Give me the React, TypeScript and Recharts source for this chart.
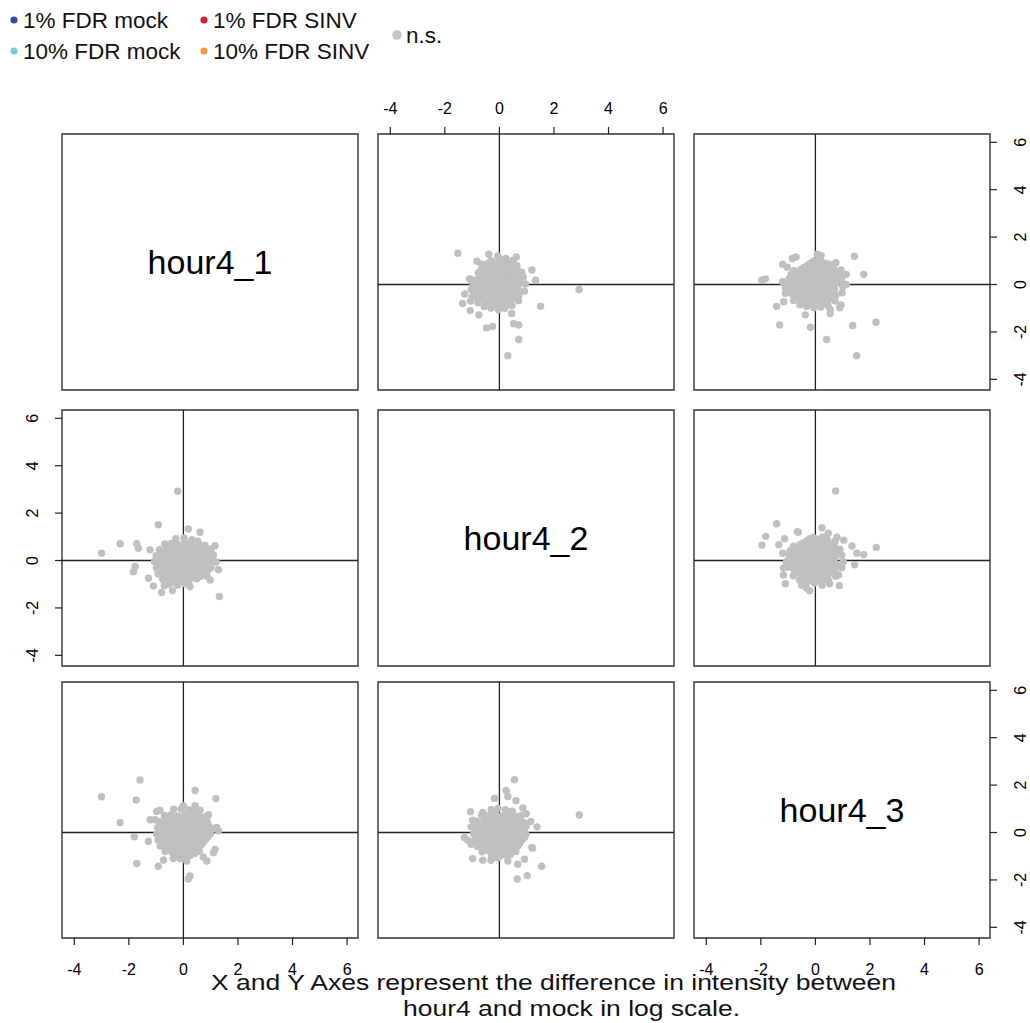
import React from 'react';
import { ScatterChart, Scatter, XAxis, YAxis, ReferenceLine, ReferenceArea } from 'recharts';

const sampleNames = ['hour4_1', 'hour4_2', 'hour4_3'];
const axisTicks = [-4, -2, 0, 2, 4, 6];
const xRange: [number, number] = [-4.45, 6.4];
const yRange: [number, number] = [-4.45, 6.35];

const legendLabels = ['1% FDR mock', '1% FDR SINV', '10% FDR mock', '10% FDR SINV', 'n.s.'];
const legendColors = ['#3a4a97', '#d8232f', '#7ccbd0', '#f39a3a', '#c4c4c4'];

const captionLines = [
  'X and Y Axes represent the difference in intensity between',
  'hour4 and mock in log scale.',
];

// log difference pairs: [hour4_1, hour4_2]
const pair12: [number, number][] = [
  [-0.28, 0.92], [0.02, 0.95], [0.31, 0.88], [0.52, 0.82],
  [-0.68, 0.7], [-0.44, 0.72], [-0.18, 0.68], [0.07, 0.74], [0.29, 0.66], [0.56, 0.7], [0.79, 0.64],
  [-0.88, 0.46], [-0.63, 0.43], [-0.41, 0.48], [-0.14, 0.44], [0.11, 0.47], [0.36, 0.42], [0.61, 0.46], [0.84, 0.41], [1.02, 0.5],
  [-1.0, 0.2], [-0.76, 0.22], [-0.52, 0.18], [-0.26, 0.21], [0.01, 0.17], [0.24, 0.23], [0.49, 0.19], [0.74, 0.22], [0.98, 0.16],
  [-1.06, -0.04], [-0.81, -0.07], [-0.56, -0.03], [-0.31, -0.06], [-0.06, -0.02], [0.19, -0.05], [0.44, -0.08], [0.69, -0.03], [0.93, -0.06], [1.12, -0.02],
  [-0.99, -0.31], [-0.74, -0.28], [-0.49, -0.32], [-0.24, -0.27], [0.02, -0.31], [0.27, -0.29], [0.52, -0.33], [0.76, -0.27], [1.01, -0.3],
  [-0.93, -0.56], [-0.69, -0.53], [-0.44, -0.57], [-0.19, -0.54], [0.06, -0.58], [0.31, -0.52], [0.56, -0.56], [0.79, -0.51],
  [-0.76, -0.79], [-0.51, -0.82], [-0.26, -0.78], [-0.01, -0.83], [0.24, -0.79], [0.49, -0.77],
  [-0.52, -1.0], [-0.21, -1.03], [0.08, -0.98],
  [-0.55, 0.57], [-0.31, 0.59], [-0.04, 0.55], [0.21, 0.58], [0.44, 0.56], [0.69, 0.55],
  [-0.85, 0.32], [-0.6, 0.31], [-0.36, 0.33], [-0.1, 0.3], [0.14, 0.33], [0.39, 0.31], [0.64, 0.34], [0.89, 0.3],
  [-0.92, 0.07], [-0.68, 0.08], [-0.43, 0.06], [-0.18, 0.08], [0.07, 0.06], [0.32, 0.08], [0.57, 0.07], [0.82, 0.06], [1.03, 0.1],
  [-0.87, -0.18], [-0.62, -0.17], [-0.37, -0.19], [-0.12, -0.16], [0.13, -0.18], [0.38, -0.17], [0.63, -0.19], [0.88, -0.16],
  [-0.82, -0.43], [-0.57, -0.42], [-0.32, -0.44], [-0.07, -0.43], [0.18, -0.42], [0.43, -0.44], [0.68, -0.42], [0.9, -0.41],
  [-0.6, -0.68], [-0.35, -0.67], [-0.1, -0.69], [0.15, -0.68], [0.4, -0.66], [0.62, -0.67],
  [-0.35, -0.91], [-0.1, -0.9], [0.15, -0.89],
  [-0.21, 2.92], [-0.92, 1.51], [0.61, 1.19], [0.18, 1.33], [-3.0, 0.31], [-2.32, 0.71], [-1.71, 0.71], [-1.65, 0.52],
  [-1.22, 0.45], [-1.77, -0.25], [-1.83, -0.47], [-1.28, -0.75], [-1.1, -1.07], [-0.8, -1.35], [-0.4, -1.27], [0.24, -1.1],
  [0.98, -0.82], [1.28, -0.39], [1.16, 0.62], [1.1, 0.24], [1.32, -1.52], [0.86, -0.65], [1.2, -0.06], [0.21, -1.04], [-0.7, -1.06],
];

// log difference pairs: [hour4_1, hour4_3]
const pair13: [number, number][] = [
  [-0.35, 0.98], [-0.08, 1.0], [0.2, 0.95], [0.45, 0.9],
  [-0.7, 0.72], [-0.45, 0.75], [-0.2, 0.7], [0.05, 0.76], [0.3, 0.7], [0.55, 0.73], [0.78, 0.66],
  [-0.88, 0.46], [-0.63, 0.49], [-0.38, 0.44], [-0.13, 0.48], [0.12, 0.43], [0.37, 0.47], [0.62, 0.44], [0.86, 0.49],
  [-0.95, 0.2], [-0.7, 0.23], [-0.45, 0.18], [-0.2, 0.22], [0.05, 0.19], [0.3, 0.24], [0.55, 0.18], [0.8, 0.21], [0.97, 0.17],
  [-0.98, -0.06], [-0.73, -0.03], [-0.48, -0.07], [-0.23, -0.02], [0.02, -0.06], [0.27, -0.03], [0.52, -0.07], [0.77, -0.02], [0.99, -0.05],
  [-0.93, -0.32], [-0.68, -0.29], [-0.43, -0.33], [-0.18, -0.28], [0.07, -0.32], [0.32, -0.3], [0.57, -0.34], [0.82, -0.28],
  [-0.85, -0.57], [-0.6, -0.55], [-0.35, -0.59], [-0.1, -0.54], [0.15, -0.58], [0.4, -0.56], [0.65, -0.53],
  [-0.67, -0.8], [-0.42, -0.83], [-0.17, -0.79], [0.08, -0.84], [0.33, -0.8], [0.58, -0.78],
  [-0.3, -0.97], [0.0, -1.0], [0.25, -0.96],
  [-0.55, 0.6], [-0.3, 0.61], [-0.05, 0.59], [0.2, 0.62], [0.45, 0.6], [0.68, 0.57],
  [-0.78, 0.33], [-0.53, 0.34], [-0.28, 0.32], [-0.03, 0.35], [0.22, 0.33], [0.47, 0.34], [0.72, 0.32], [0.9, 0.35],
  [-0.85, 0.08], [-0.6, 0.07], [-0.35, 0.09], [-0.1, 0.07], [0.15, 0.08], [0.4, 0.06], [0.65, 0.09], [0.88, 0.07],
  [-0.82, -0.19], [-0.57, -0.18], [-0.32, -0.2], [-0.07, -0.17], [0.18, -0.19], [0.43, -0.18], [0.68, -0.2], [0.9, -0.17],
  [-0.75, -0.45], [-0.5, -0.44], [-0.25, -0.46], [0.0, -0.43], [0.25, -0.45], [0.5, -0.44], [0.72, -0.42],
  [-0.55, -0.69], [-0.3, -0.68], [-0.05, -0.7], [0.2, -0.69], [0.45, -0.67],
  [-0.2, -0.9], [0.12, -0.92], [0.42, -0.89],
  [-1.59, 2.22], [-3.0, 1.51], [-1.73, 1.37], [0.43, 1.77], [1.19, 1.43], [-2.32, 0.41], [-1.22, 0.54], [-1.04, 0.54],
  [-0.98, 0.89], [-0.86, 0.94], [-1.8, -0.18], [-1.28, -0.37], [-1.71, -1.31], [-0.92, -1.42], [-0.73, -1.16], [-0.37, -1.1],
  [-0.12, -1.1], [0.12, -1.2], [0.24, -1.83], [0.18, -1.96], [0.73, -1.03], [0.86, -1.2], [1.16, -0.71], [1.1, -0.85],
  [1.28, 0.07], [1.22, 0.21], [1.04, 0.18], [0.92, 0.75], [0.43, 1.13], [0.61, 0.94], [0.0, 1.13],
];

// log difference pairs: [hour4_2, hour4_3]
const pair23: [number, number][] = [
  [-0.3, 0.97], [-0.05, 1.02], [0.22, 0.96], [0.47, 0.9],
  [-0.66, 0.74], [-0.41, 0.71], [-0.16, 0.76], [0.09, 0.7], [0.34, 0.75], [0.59, 0.69], [0.8, 0.72],
  [-0.84, 0.48], [-0.59, 0.45], [-0.34, 0.5], [-0.09, 0.44], [0.16, 0.49], [0.41, 0.45], [0.66, 0.5], [0.88, 0.43],
  [-0.92, 0.22], [-0.67, 0.19], [-0.42, 0.24], [-0.17, 0.18], [0.08, 0.23], [0.33, 0.19], [0.58, 0.24], [0.83, 0.18], [0.98, 0.26],
  [-0.95, -0.04], [-0.7, -0.07], [-0.45, -0.02], [-0.2, -0.06], [0.05, -0.03], [0.3, -0.07], [0.55, -0.02], [0.8, -0.05], [0.97, -0.08],
  [-0.9, -0.3], [-0.65, -0.33], [-0.4, -0.28], [-0.15, -0.32], [0.1, -0.29], [0.35, -0.33], [0.6, -0.28], [0.83, -0.31],
  [-0.82, -0.58], [-0.57, -0.54], [-0.32, -0.57], [-0.07, -0.53], [0.18, -0.58], [0.43, -0.55], [0.67, -0.57],
  [-0.64, -0.81], [-0.39, -0.78], [-0.14, -0.83], [0.11, -0.79], [0.36, -0.82], [0.6, -0.8],
  [-0.28, -0.98], [0.0, -1.01], [0.26, -0.97],
  [-0.53, 0.6], [-0.28, 0.58], [-0.03, 0.61], [0.22, 0.59], [0.47, 0.62], [0.7, 0.6],
  [-0.72, 0.34], [-0.47, 0.35], [-0.22, 0.32], [0.03, 0.34], [0.28, 0.33], [0.53, 0.36], [0.76, 0.32],
  [-0.82, 0.09], [-0.57, 0.08], [-0.32, 0.1], [-0.07, 0.08], [0.18, 0.09], [0.43, 0.07], [0.68, 0.1], [0.9, 0.08],
  [-0.78, -0.17], [-0.53, -0.19], [-0.28, -0.16], [-0.03, -0.18], [0.22, -0.17], [0.47, -0.19], [0.72, -0.16], [0.92, -0.2],
  [-0.75, -0.44], [-0.5, -0.43], [-0.25, -0.45], [0.0, -0.42], [0.25, -0.44], [0.5, -0.43], [0.74, -0.45],
  [-0.52, -0.69], [-0.27, -0.68], [-0.02, -0.7], [0.23, -0.67], [0.48, -0.69],
  [-0.15, -0.91], [0.13, -0.9], [0.4, -0.93],
  [0.55, 2.23], [0.25, 1.77], [0.31, 1.52], [0.61, 1.34], [-0.18, 1.44], [2.93, 0.74], [-1.06, 0.88], [-0.61, 0.85],
  [-0.98, 0.52], [-1.04, 0.24], [-1.28, -0.21], [-1.16, -0.33], [-1.04, -0.5], [-0.98, -1.1], [-0.61, -1.17], [-0.31, -1.17],
  [-0.06, -1.06], [0.31, -1.2], [0.67, -1.34], [0.92, -1.13], [1.22, -0.66], [1.55, -1.42], [1.02, -1.82], [0.65, -1.96],
  [1.38, 0.24], [1.15, 0.47], [0.98, 0.79], [0.86, 1.04], [1.19, -0.63],
];

const FONT = '"Liberation Sans", Arial, Helvetica, sans-serif';
const PAD = 50;
const BOX_W = 296;
const BOX_H = 256;
const colLeft = [62, 378, 694];
const rowTop = [134, 410, 682];

type Side = 'top' | 'bottom' | 'left' | 'right';

const renderTick = (side: Side) => (props: any) => {
  const { x, y, payload } = props;
  const label = String(payload.value);
  if (side === 'top' || side === 'bottom') {
    const cy = side === 'top' ? y - 19 : y + 24;
    return (
      <text x={x} y={cy} textAnchor="middle" dominantBaseline="central" fontSize={16} fontFamily={FONT} fill="#000">
        {label}
      </text>
    );
  }
  const cx = side === 'left' ? x - 22 : x + 24;
  return (
    <text x={cx} y={y} transform={`rotate(-90 ${cx} ${y})`} textAnchor="middle" dominantBaseline="central" fontSize={16} fontFamily={FONT} fill="#000">
      {label}
    </text>
  );
};

const Dot = (props: any) => <circle cx={props.cx} cy={props.cy} r={3.7} fill="#bfbfbf" />;

const toXY = (pairs: [number, number][], swap: boolean) =>
  pairs.map(([a, b]) => (swap ? { x: b, y: a } : { x: a, y: b }));

type PanelProps = {
  row: number;
  col: number;
  points?: { x: number; y: number }[];
  label?: string;
  xSide?: 'top' | 'bottom';
  ySide?: 'left' | 'right';
};

const Panel = ({ row, col, points, label, xSide, ySide }: PanelProps) => {
  const margin = {
    top: xSide === 'top' ? 0 : PAD,
    bottom: xSide === 'bottom' ? 0 : PAD,
    left: ySide === 'left' ? 0 : PAD,
    right: ySide === 'right' ? 0 : PAD,
  };
  return (
    <div style={{ position: 'absolute', left: colLeft[col] - PAD, top: rowTop[row] - PAD }}>
      <ScatterChart width={BOX_W + 2 * PAD} height={BOX_H + 2 * PAD} margin={margin}>
        <XAxis
          type="number"
          dataKey="x"
          domain={xRange}
          allowDataOverflow
          ticks={axisTicks}
          interval={0}
          hide={!xSide}
          orientation={xSide ?? 'bottom'}
          height={PAD}
          tickSize={7}
          tickMargin={0}
          axisLine={false}
          tickLine={{ stroke: '#222', strokeWidth: 1.2 }}
          tick={renderTick(xSide ?? 'bottom')}
        />
        <YAxis
          type="number"
          dataKey="y"
          domain={yRange}
          allowDataOverflow
          ticks={axisTicks}
          interval={0}
          hide={!ySide}
          orientation={ySide ?? 'left'}
          width={PAD}
          tickSize={7}
          tickMargin={0}
          axisLine={false}
          tickLine={{ stroke: '#222', strokeWidth: 1.2 }}
          tick={renderTick(ySide ?? 'left')}
        />
        {points && <Scatter data={points} isAnimationActive={false} shape={Dot} />}
        {points && <ReferenceLine x={0} stroke="#222" strokeWidth={1.3} />}
        {points && <ReferenceLine y={0} stroke="#222" strokeWidth={1.3} />}
        <ReferenceArea
          x1={xRange[0]}
          x2={xRange[1]}
          y1={yRange[0]}
          y2={yRange[1]}
          fill="none"
          fillOpacity={0}
          stroke="#333"
          strokeWidth={1.4}
          label={label ? { value: label, position: 'center', fontSize: 34, fontFamily: FONT, fill: '#000' } : undefined}
        />
      </ScatterChart>
    </div>
  );
};

export default function App() {
  const legendDots = [
    { cx: 14, cy: 20, tx: 23, ty: 28 },
    { cx: 204, cy: 20, tx: 213, ty: 28 },
    { cx: 14, cy: 51, tx: 23, ty: 59 },
    { cx: 204, cy: 51, tx: 213, ty: 59 },
    { cx: 397, cy: 35, tx: 406, ty: 43 },
  ];
  return (
    <div style={{ position: 'absolute', left: 0, top: 0, width: 1030, height: 1023, background: '#fff', fontFamily: FONT }}>
      <svg width={470} height={70} style={{ position: 'absolute', left: 0, top: 0 }}>
        {legendLabels.map((name, i) => (
          <g key={name}>
            <circle cx={legendDots[i].cx} cy={legendDots[i].cy} r={i === 4 ? 4.8 : 3.6} fill={legendColors[i]} />
            <text x={legendDots[i].tx} y={legendDots[i].ty} fontSize={22.5} fontFamily={FONT} fill="#111">
              {name}
            </text>
          </g>
        ))}
      </svg>

      <Panel row={0} col={0} label={sampleNames[0]} />
      <Panel row={0} col={1} points={toXY(pair12, true)} xSide="top" />
      <Panel row={0} col={2} points={toXY(pair13, true)} ySide="right" />
      <Panel row={1} col={0} points={toXY(pair12, false)} ySide="left" />
      <Panel row={1} col={1} label={sampleNames[1]} />
      <Panel row={1} col={2} points={toXY(pair23, true)} />
      <Panel row={2} col={0} points={toXY(pair13, false)} xSide="bottom" />
      <Panel row={2} col={1} points={toXY(pair23, false)} />
      <Panel row={2} col={2} label={sampleNames[2]} xSide="bottom" ySide="right" />

      <svg width={1030} height={60} style={{ position: 'absolute', left: 0, top: 963 }}>
        <text x={211} y={27} fontSize={22} fontFamily={FONT} fill="#111" textLength={685} lengthAdjust="spacingAndGlyphs">
          {captionLines[0]}
        </text>
        <text x={403} y={53} fontSize={22} fontFamily={FONT} fill="#111" textLength={337} lengthAdjust="spacingAndGlyphs">
          {captionLines[1]}
        </text>
      </svg>
    </div>
  );
}
